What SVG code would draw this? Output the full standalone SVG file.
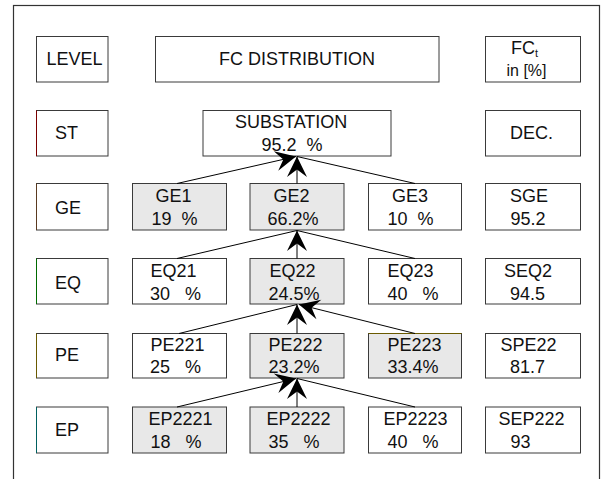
<svg xmlns="http://www.w3.org/2000/svg" width="604" height="479" viewBox="0 0 604 479">
<style>
text{font-family:"Liberation Sans",Arial,sans-serif;font-size:18px;fill:#111;}
.b{fill:#fff;stroke:#3a3a3a;stroke-width:1;}
.g{fill:#e8e8e8;stroke:#3a3a3a;stroke-width:1;}
.c{stroke:#000;stroke-width:1;fill:none;}
</style>
<defs>
<marker id="ah" viewBox="-23 -12 24 24" markerWidth="24" markerHeight="24" refX="0" refY="0" orient="auto" markerUnits="userSpaceOnUse">
<path d="M0,0 L-20.5,-10 L-13,0 L-20.5,10 Z" fill="#000"/>
</marker>
</defs>
<rect x="13.5" y="5.5" width="586" height="500" fill="#fff" stroke="#333" stroke-width="1.2"/>

<g id="hdr-level"><rect class="b" x="36.5" y="36.5" width="71.5" height="45.5"/><text x="46.5" y="65">LEVEL</text></g>
<g id="hdr-fc"><rect class="b" x="155.5" y="36.5" width="283.5" height="45.5"/><text x="297" y="65" text-anchor="middle">FC DISTRIBUTION</text></g>
<g id="hdr-fct"><rect class="b" x="485.5" y="36.5" width="95" height="45.5"/><text x="511" y="54" font-size="17">FC<tspan font-size="11" dy="3">t</tspan></text><text x="506.5" y="76" style="font-size:16px">in [%]</text></g>

<g id="lv-st"><rect class="b" x="36.5" y="110.5" width="71.5" height="45.5"/><line x1="36.5" y1="110.5" x2="36.5" y2="156" stroke="#7a0000"/><text x="55" y="138.5">ST</text></g>
<g id="substation"><rect class="b" x="203" y="110.5" width="188" height="45.5"/><text x="235" y="127.5">SUBSTATION</text><text x="261.5" y="150.5" xml:space="preserve">95.2  %</text></g>
<g id="dec"><rect class="b" x="485.5" y="110.5" width="95" height="45.5"/><text x="510" y="138.5">DEC.</text></g>

<g id="lv-ge"><rect class="b" x="36.5" y="183.5" width="71.5" height="46.5"/><line x1="36.5" y1="183.5" x2="36.5" y2="230" stroke="#5a3a20"/><text x="55" y="213.5">GE</text></g>
<g id="ge1"><rect class="g" x="132.5" y="183.5" width="94" height="46.5"/><text x="155.5" y="201.5">GE1</text><text x="151.5" y="225" xml:space="preserve">19  %</text></g>
<g id="ge2"><rect class="g" x="250" y="183.5" width="94" height="46.5"/><text x="273.5" y="201.5">GE2</text><text x="267.5" y="225">66.2%</text></g>
<g id="ge3"><rect class="b" x="368.5" y="183.5" width="93" height="46.5"/><text x="392" y="201.5">GE3</text><text x="387.5" y="225" xml:space="preserve">10  %</text></g>
<g id="sge"><rect class="b" x="485.5" y="183.5" width="95" height="46.5"/><text x="510" y="201.5">SGE</text><text x="510.5" y="225">95.2</text></g>

<g id="lv-eq"><rect class="b" x="36.5" y="258.5" width="71.5" height="45.5"/><line x1="36.5" y1="258.5" x2="36.5" y2="304" stroke="#006a00"/><text x="55" y="288.5">EQ</text></g>
<g id="eq21"><rect class="b" x="132.5" y="258.5" width="94" height="45.5"/><text x="150.5" y="276.5">EQ21</text><text x="150" y="299.5" xml:space="preserve">30   %</text></g>
<g id="eq22"><rect class="g" x="250" y="258.5" width="94" height="45.5"/><text x="269.5" y="276.5">EQ22</text><text x="268.5" y="299.5">24.5%</text></g>
<g id="eq23"><rect class="b" x="368.5" y="258.5" width="93" height="45.5"/><text x="387.5" y="276.5">EQ23</text><text x="387.5" y="299.5" xml:space="preserve">40   %</text></g>
<g id="seq2"><rect class="b" x="485.5" y="258.5" width="95" height="45.5"/><text x="504" y="276.5">SEQ2</text><text x="510" y="299.5">94.5</text></g>

<g id="lv-pe"><rect class="b" x="36.5" y="333.5" width="71.5" height="44.5"/><line x1="36.5" y1="333.5" x2="36.5" y2="378" stroke="#6a5a00"/><text x="55" y="361">PE</text></g>
<g id="pe221"><rect class="b" x="132.5" y="333.5" width="94" height="44.5"/><text x="150.5" y="350.5">PE221</text><text x="150" y="373" xml:space="preserve">25   %</text></g>
<g id="pe222"><rect class="g" x="250" y="333.5" width="94" height="44.5"/><text x="268.5" y="350.5">PE222</text><text x="268.5" y="373">23.2%</text></g>
<g id="pe223"><rect class="g" x="368.5" y="333.5" width="93" height="44.5"/><line x1="368.5" y1="333.5" x2="461.5" y2="333.5" stroke="#6a5a00"/><text x="387.5" y="350.5">PE223</text><text x="387.5" y="373">33.4%</text></g>
<g id="spe22"><rect class="b" x="485.5" y="333.5" width="95" height="44.5"/><text x="500.5" y="350.5">SPE22</text><text x="510" y="373">81.7</text></g>

<g id="lv-ep"><rect class="b" x="36.5" y="407" width="71.5" height="46"/><line x1="36.5" y1="407" x2="36.5" y2="453" stroke="#006060"/><text x="55" y="436">EP</text></g>
<g id="ep2221"><rect class="g" x="132.5" y="407" width="94" height="46"/><text x="148.5" y="425">EP2221</text><text x="150.5" y="447.5" xml:space="preserve">18   %</text></g>
<g id="ep2222"><rect class="g" x="250" y="407" width="94" height="46"/><text x="266.5" y="425">EP2222</text><text x="268.5" y="447.5" xml:space="preserve">35   %</text></g>
<g id="ep2223"><rect class="b" x="368.5" y="407" width="93" height="46"/><text x="383.5" y="425">EP2223</text><text x="387.5" y="447.5" xml:space="preserve">40   %</text></g>
<g id="sep222"><rect class="b" x="485.5" y="407" width="95" height="46"/><text x="498.5" y="425">SEP222</text><text x="510.5" y="447.5">93</text></g>

<g id="connectors">
<line class="c" x1="177" y1="183.5" x2="296" y2="156.5" marker-end="url(#ah)"/>
<line class="c" x1="297" y1="183.5" x2="297" y2="156.5" marker-end="url(#ah)"/>
<line class="c" x1="415" y1="183.5" x2="297" y2="156.5"/>

<line class="c" x1="177" y1="258.5" x2="297" y2="230.5"/>
<line class="c" x1="297" y1="258.5" x2="297" y2="230.5" marker-end="url(#ah)"/>
<line class="c" x1="415" y1="258.5" x2="297" y2="230.5"/>

<line class="c" x1="179" y1="333.5" x2="297" y2="304.5"/>
<line class="c" x1="297" y1="333.5" x2="297" y2="304.5" marker-end="url(#ah)"/>
<line class="c" x1="415" y1="333.5" x2="299" y2="304.5" marker-end="url(#ah)"/>

<line class="c" x1="177" y1="407" x2="296" y2="378.5" marker-end="url(#ah)"/>
<line class="c" x1="297" y1="407" x2="297" y2="378.5" marker-end="url(#ah)"/>
<line class="c" x1="415" y1="407" x2="297" y2="378.5"/>
</g>
</svg>
